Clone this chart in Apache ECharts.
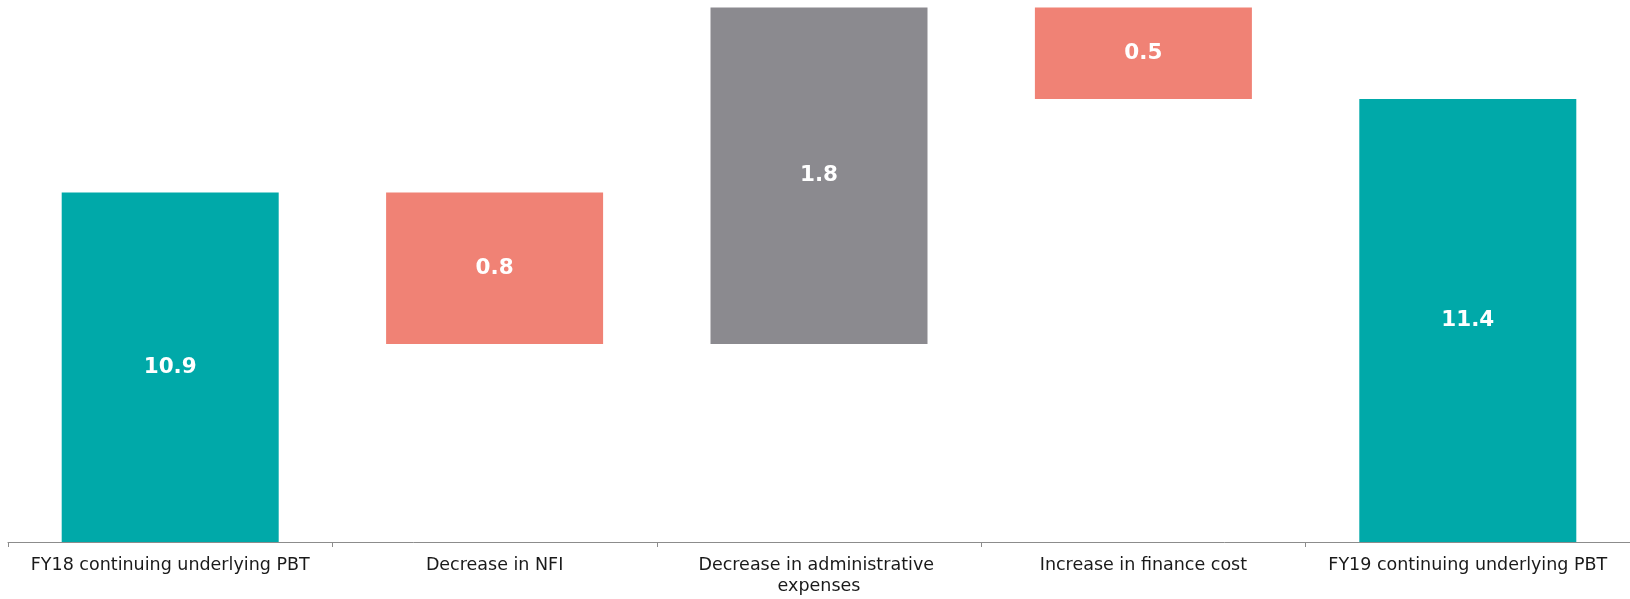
<!DOCTYPE html>
<html>
<head>
<meta charset="utf-8">
<script src="https://cdn.jsdelivr.net/npm/echarts@6/dist/echarts.min.js"></script>
<style>
  html, body { margin: 0; padding: 0; background: #ffffff; }
  #chart { width: 1630px; height: 599px; }
</style>
</head>
<body>
<div id="chart"></div>
<script>
// Data (GBP m)
const categories = [
  'FY18 continuing underlying PBT',
  'Decrease in NFI',
  'Decrease in administrative expenses',
  'Increase in finance cost',
  'FY19 continuing underlying PBT'
];
const startTotal = 10.87;              // FY18 bar
const deltas = [-0.81, 1.80, -0.49];   // movements
const kinds = ['total', 'neg', 'pos', 'neg', 'total'];
const colors = { total: '#00A9A9', neg: '#F08275', pos: '#8B8A8F' };

// Build waterfall (transparent base + visible bar)
const baseData = [];
const valueData = [];
let running = startTotal;
baseData.push(0);
valueData.push(startTotal);
deltas.forEach(d => {
  const low = Math.min(running, running + d);
  baseData.push(low);
  valueData.push(Math.abs(d));
  running += d;
});
baseData.push(0);
valueData.push(running);

const chart = echarts.init(document.getElementById('chart'), null, { renderer: 'canvas' });
chart.setOption({
  animation: false,
  backgroundColor: '#ffffff',
  grid: { left: 8, right: 0, top: 0, bottom: 57, containLabel: false },
  xAxis: {
    type: 'category',
    data: categories,
    boundaryGap: true,
    axisLine: { show: true, lineStyle: { color: '#8C8C8C', width: 1 } },
    axisTick: { show: true, length: 5, alignWithLabel: false, lineStyle: { color: '#8C8C8C' } },
    axisLabel: {
      interval: 0,
      margin: 13,
      color: '#1A1A1A',
      fontFamily: 'DejaVu Sans',
      fontSize: 17.5,
      lineHeight: 21,
      width: 290,
      overflow: 'break',
      align: 'center'
    },
    splitLine: { show: false }
  },
  yAxis: {
    type: 'value',
    min: 9,
    max: 11.9,
    show: false,
    splitLine: { show: false }
  },
  series: [
    {
      name: 'base',
      type: 'bar',
      stack: 'wf',
      barWidth: 217,
      clip: true,
      silent: true,
      itemStyle: { color: 'transparent' },
      data: baseData
    },
    {
      name: 'value',
      type: 'bar',
      stack: 'wf',
      barWidth: 217,
      clip: true,
      data: valueData.map((v, i) => ({
        value: v,
        itemStyle: { color: colors[kinds[i]] }
      })),
      label: {
        show: true,
        position: 'inside',
        color: '#ffffff',
        fontFamily: 'DejaVu Sans',
        fontWeight: 'bold',
        fontSize: 21.5,
        formatter: p => p.value.toFixed(1)
      }
    }
  ]
});
</script>
</body>
</html>
